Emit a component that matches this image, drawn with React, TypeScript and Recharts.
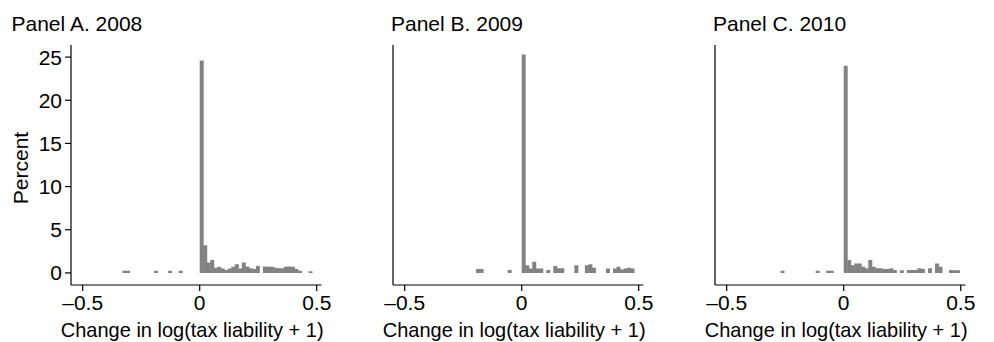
import React from 'react';
import { BarChart, Bar, XAxis, YAxis, Label } from 'recharts';

const FONT = '"Liberation Sans", Arial, Helvetica, sans-serif';
const BIN = 0.015;

// Panel A. 2008 — bin lower edges and percent of observations
const startsA = [-0.33, -0.315, -0.195, -0.135, -0.09, 0, 0.015, 0.03, 0.045, 0.06, 0.075, 0.09, 0.105, 0.12, 0.135, 0.15, 0.165, 0.18, 0.195, 0.21, 0.225, 0.24, 0.27, 0.285, 0.3, 0.315, 0.33, 0.345, 0.36, 0.375, 0.39, 0.405, 0.42, 0.465];
const pctA = [0.25, 0.25, 0.25, 0.25, 0.25, 24.6, 3.2, 1.2, 1.5, 0.6, 0.7, 0.5, 0.35, 0.5, 0.7, 1.0, 0.5, 1.2, 0.75, 0.55, 0.45, 0.8, 0.75, 0.7, 0.7, 0.6, 0.55, 0.55, 0.7, 0.75, 0.7, 0.45, 0.25, 0.2];

// Panel B. 2009
const startsB = [-0.195, -0.18, -0.06, 0, 0.015, 0.03, 0.045, 0.06, 0.075, 0.105, 0.135, 0.15, 0.165, 0.225, 0.27, 0.285, 0.3, 0.36, 0.39, 0.405, 0.42, 0.435, 0.45, 0.465];
const pctB = [0.45, 0.45, 0.35, 25.3, 0.9, 0.5, 1.3, 0.5, 0.5, 0.35, 0.8, 0.55, 0.55, 0.9, 0.9, 1.0, 0.6, 0.5, 0.5, 0.7, 0.4, 0.5, 0.6, 0.5];

// Panel C. 2010
const startsC = [-0.27, -0.12, -0.075, -0.06, 0, 0.015, 0.03, 0.045, 0.06, 0.075, 0.09, 0.105, 0.12, 0.135, 0.15, 0.165, 0.18, 0.195, 0.21, 0.24, 0.27, 0.285, 0.3, 0.315, 0.33, 0.36, 0.39, 0.405, 0.45, 0.465, 0.48];
const pctC = [0.25, 0.25, 0.25, 0.25, 24.0, 1.5, 0.9, 1.1, 1.1, 0.7, 0.55, 1.5, 0.7, 0.55, 0.55, 0.45, 0.45, 0.55, 0.35, 0.3, 0.35, 0.35, 0.35, 0.55, 0.45, 0.55, 1.1, 0.7, 0.35, 0.3, 0.3];

const titles = ['Panel A. 2008', 'Panel B. 2009', 'Panel C. 2010'];
const xTicks = [-0.5, 0, 0.5];
const yTicks = [0, 5, 10, 15, 20, 25];
const xTitle = 'Change in log(tax liability + 1)';
const yTitle = 'Percent';

const build = (starts: number[], pct: number[]) =>
  starts.map((s, i) => ({ x: s + BIN / 2, pct: pct[i] }));

const fmtX = (v: number) => (v < 0 ? '\u2013' + String(Math.abs(v)) : String(v));

const FS = 21;
const LFS = 20;
const PLOT_W = 250.4;
const YW = 71;
const RM = 24;
const CW = YW + PLOT_W + RM;

const tickStyle = { fill: '#000', fontSize: FS, fontFamily: FONT };
const lineStyle = { stroke: '#000', strokeWidth: 1.2 };

function Panel({ left, data, showY }: { left: number; data: any[]; showY: boolean }) {
  return (
    <div style={{ position: 'absolute', left, top: 0 }}>
      <BarChart
        width={CW}
        height={342}
        data={data}
        margin={{ top: 45, right: RM, bottom: 0, left: 0 }}
        barCategoryGap={0}
        barGap={0}
      >
        <XAxis
          dataKey="x"
          type="number"
          domain={[-0.55, 0.52]}
          ticks={xTicks}
          allowDataOverflow
          tickFormatter={fmtX}
          tickSize={6}
          tickMargin={4}
          height={57}
          tick={tickStyle}
          axisLine={lineStyle}
          tickLine={lineStyle}
        >
          <Label
            value={xTitle}
            position="insideBottom"
            offset={5}
            dx={-4}
            style={{ fill: '#000', fontSize: LFS, fontFamily: FONT }}
          />
        </XAxis>
        <YAxis
          type="number"
          domain={[-1.4, 26.4]}
          ticks={yTicks}
          allowDataOverflow
          width={YW}
          tickSize={6}
          tickMargin={3}
          tick={showY ? tickStyle : false}
          tickLine={showY ? lineStyle : false}
          axisLine={lineStyle}
        />
        <Bar dataKey="pct" fill="#828282" isAnimationActive={false} />
      </BarChart>
    </div>
  );
}

export default function App() {
  return (
    <div style={{ position: 'absolute', left: 0, top: 0, width: 994, height: 342, background: '#fff', overflow: 'hidden' }}>
      <Panel left={0} data={build(startsA, pctA)} showY={true} />
      <Panel left={392.5 - YW} data={build(startsB, pctB)} showY={false} />
      <Panel left={715 - YW} data={build(startsC, pctC)} showY={false} />
      <svg width={994} height={342} style={{ position: 'absolute', left: 0, top: 0, pointerEvents: 'none' }}>
        <text x={11.5} y={30.5} fontSize={FS} fontFamily={FONT} fill="#000">{titles[0]}</text>
        <text x={391} y={30.5} fontSize={FS} fontFamily={FONT} fill="#000">{titles[1]}</text>
        <text x={713} y={30.5} fontSize={FS} fontFamily={FONT} fill="#000">{titles[2]}</text>
        <text x={28} y={168} fontSize={FS} fontFamily={FONT} fill="#000" textAnchor="middle" transform="rotate(-90 28 168)">{yTitle}</text>
      </svg>
    </div>
  );
}
